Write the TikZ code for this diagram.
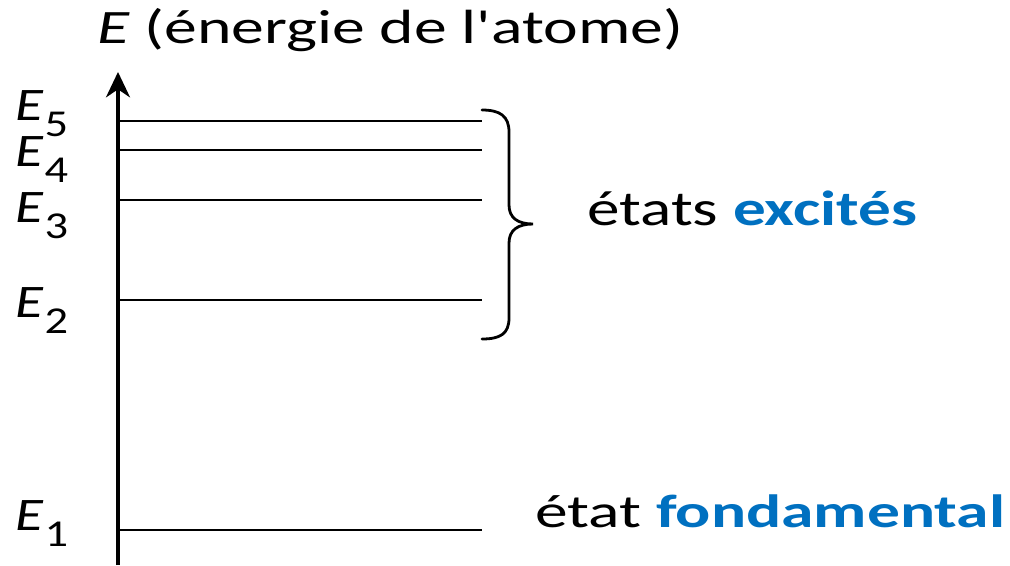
\documentclass[tikz,border=0pt]{standalone}
\usepackage{fontspec}
\setmainfont{Carlito}
\usetikzlibrary{arrows.meta}
\definecolor{excblue}{RGB}{0,112,192}
\tikzset{
  levelline/.style={line width=2.1pt},
  axisline/.style={line width=2.6pt, -{Stealth[length=19pt,width=18pt,inset=6pt]}},
  bracepath/.style={line width=2.1pt, line cap=round},
  lbl/.style={inner sep=0pt, anchor=base west},
}
% energy label E_n, stretched to a fixed width
\newcommand{\Elabel}[1]{\resizebox{39.75pt}{\height}{\fontsize{35pt}{40pt}\selectfont\itshape E\kern1pt\raisebox{-12pt}{\fontsize{28.5pt}{30pt}\selectfont\upshape #1}}}
\begin{document}
\begin{tikzpicture}[x=0.75pt,y=-0.75pt]
\useasboundingbox (0,0) rectangle (1010,565);

% title of the axis
\node[lbl] (title) at (97,43) {\resizebox{439.5pt}{\height}{\fontsize{36pt}{40pt}\selectfont\textit{E} (énergie de l\textquotesingle atome)}};

% energy axis
\coordinate (axbot) at (118,565);
\coordinate (axtop) at (118,72);
\draw[axisline] (axbot) -- (axtop);

% energy levels
\foreach \n/\y in {5/121,4/150,3/200,2/300,1/530}{
  \coordinate (L\n a) at (118,\y);
  \coordinate (L\n b) at (482,\y);
  \draw[levelline] (L\n a) -- (L\n b);
}

% level labels
\node[lbl] (E5) at (15,120) {\Elabel{5}};
\node[lbl] (E4) at (15,166) {\Elabel{4}};
\node[lbl] (E3) at (15,222) {\Elabel{3}};
\node[lbl] (E2) at (15,317) {\Elabel{2}};
\node[lbl] (E1) at (15,530) {\Elabel{1}};

% brace grouping the excited levels
\coordinate (btop) at (482,110);
\coordinate (btip) at (533,224);
\coordinate (bbot) at (482,339);
\draw[bracepath] (btop) .. controls (500,110) and (509,116) .. (509,132)
  -- (509,205) .. controls (509,218) and (518,224) .. (btip)
  .. controls (518,224) and (509,230) .. (509,243)
  -- (509,318) .. controls (509,334) and (500,339) .. (bbot);

% state names
\node[lbl] (exc) at (587,225) {\resizebox{247.5pt}{\height}{\fontsize{37pt}{40pt}\selectfont états \textbf{\color{excblue}excités}}};
\node[lbl] (fond) at (535,527) {\resizebox{352.5pt}{\height}{\fontsize{35pt}{40pt}\selectfont état \textbf{\color{excblue}fondamental}}};
\end{tikzpicture}
\end{document}
